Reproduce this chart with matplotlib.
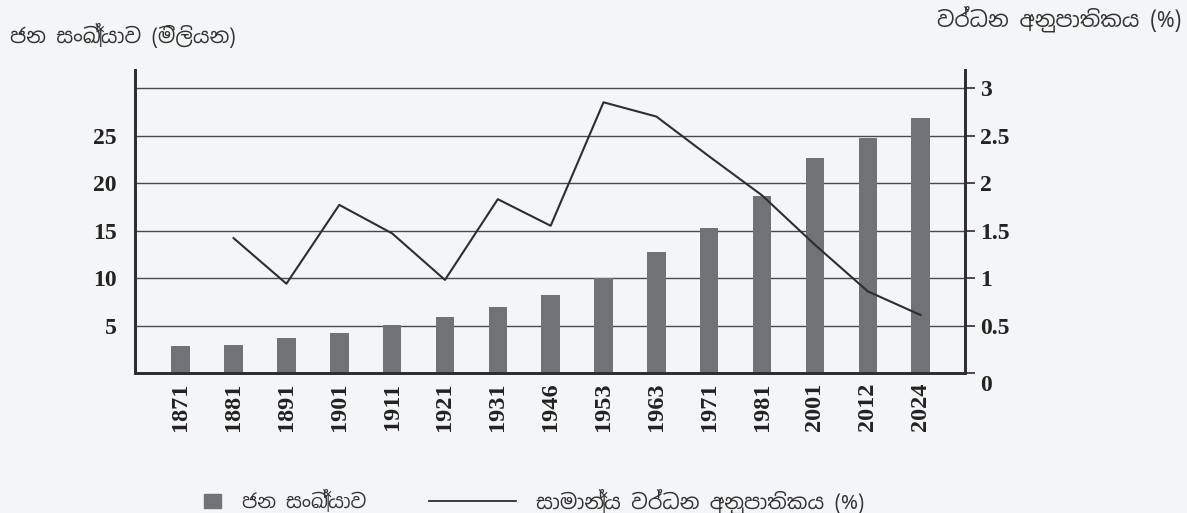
import matplotlib
matplotlib.use('Agg')
import matplotlib.pyplot as plt
from matplotlib.lines import Line2D
from matplotlib.patches import Patch
from matplotlib.transforms import ScaledTranslation

years = ['1871', '1881', '1891', '1901', '1911', '1921', '1931', '1946',
         '1953', '1963', '1971', '1981', '2001', '2012', '2024']
# population, millions
population = [2.8, 3.0, 3.65, 4.25, 5.1, 5.85, 7.0, 8.2,
              10.0, 12.7, 15.3, 18.6, 22.6, 24.7, 26.8]
# average growth rate (%), no value for 1871
growth_years = years[1:]
growth_rate = [1.42, 0.94, 1.77, 1.47, 0.98, 1.83, 1.55,
               2.85, 2.70, 2.28, 1.87, 1.35, 0.86, 0.61]

left_ticks = [5, 10, 15, 20, 25]
grid_levels = [5, 10, 15, 20, 25, 30]
right_ticks = [0, 0.5, 1, 1.5, 2, 2.5, 3]
right_labels = ['0', '0.5', '1', '1.5', '2', '2.5', '3']

left_title = 'ජන සංඛ්‍යාව (මිලියන)'
right_title = 'වර්ධන අනුපාතිකය (%)'
bar_label = 'ජන සංඛ්‍යාව'
line_label = 'සාමාන්‍ය වර්ධන අනුපාතිකය (%)'

SINHALA = ['Noto Sans Sinhala', 'DejaVu Sans']
NUM_FONT = dict(family='Liberation Serif', weight='bold', size=17)
YEAR_FONT = dict(family='Liberation Serif', weight='bold', size=17.5)
BG = '#f4f5f7'
BAR = '#6f7376'
INK = '#2e2e2e'

fig = plt.figure(figsize=(11.87, 5.13), dpi=100, facecolor=BG)
ax = fig.add_axes([135 / 1187, 1 - 373 / 513, 830 / 1187, 303 / 513])
ax.set_facecolor(BG)

x = list(range(len(years)))
for g in grid_levels:
    ax.axhline(g, color='#4a4a4a', lw=1.0, zorder=0)
ax.bar(x, population, width=0.35, color=BAR, zorder=2)

ax.set_xlim(-0.865, len(years) - 1 + 0.84)
ax.set_ylim(0, 31.9)
ax.set_yticks(left_ticks)
ax.set_yticklabels([str(t) for t in left_ticks], fontdict=NUM_FONT, color='#222')
ax.set_xticks(x)
ax.set_xticklabels(years, rotation=90, fontdict=YEAR_FONT, color='#222')
ax.tick_params(axis='y', length=0, pad=13)
ax.tick_params(axis='x', length=0, pad=7)

for side in ['left', 'bottom', 'right']:
    ax.spines[side].set_color(INK)
    ax.spines[side].set_linewidth(2)
ax.spines['top'].set_visible(False)

ax2 = ax.twinx()
ax2.set_ylim(0, 3.19)
ax2.plot([years.index(y) for y in growth_years], growth_rate, color=INK, lw=1.5)
ax2.set_yticks(right_ticks)
ax2.set_yticklabels(right_labels, fontdict=NUM_FONT, color='#222')
ax2.tick_params(axis='y', length=7, width=1.2, color=INK, pad=4)
for side in ['left', 'bottom', 'right']:
    ax2.spines[side].set_color(INK)
    ax2.spines[side].set_linewidth(2)
ax2.spines['top'].set_visible(False)

# the zero label sits a little under the axis in the original
zero = ax2.get_yticklabels()[0]
zero.set_transform(zero.get_transform() + ScaledTranslation(0, -7 / 72, fig.dpi_scale_trans))

fig.text(10 / 1187, 1 - 36 / 513, left_title, family=SINHALA, fontsize=14.8,
         color='#333', va='center', ha='left')
fig.text(1181 / 1187, 1 - 19 / 513, right_title, family=SINHALA, fontsize=15.5,
         color='#333', va='center', ha='right')

leg_y = 1 - 501 / 513
leg1 = fig.legend(handles=[Patch(color=BAR, label=bar_label)], loc='center left',
                  bbox_to_anchor=(194 / 1187, leg_y), frameon=False,
                  borderpad=0, handlelength=0.88, handleheight=0.72, handletextpad=1.1,
                  prop={'family': SINHALA, 'size': 14}, labelcolor='#333')
leg2 = fig.legend(handles=[Line2D([], [], color=INK, lw=1.3, label=line_label)],
                  loc='center left', bbox_to_anchor=(419 / 1187, leg_y),
                  frameon=False, borderpad=0, handlelength=4.23, handletextpad=0.97,
                  prop={'family': SINHALA, 'size': 14.8}, labelcolor='#333')

fig.savefig('out.png', dpi=100, facecolor=BG)
